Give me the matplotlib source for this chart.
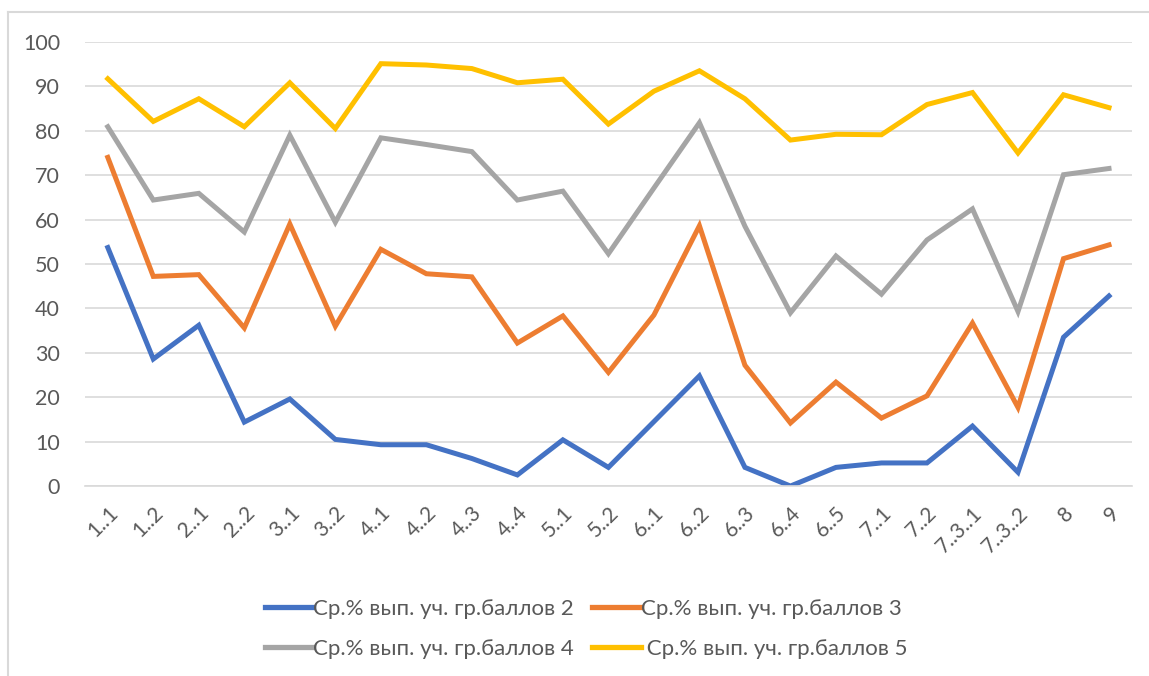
import matplotlib.pyplot as plt
from matplotlib.lines import Line2D

categories = ["1..1", "1..2", "2..1", "2..2", "3..1", "3..2", "4..1", "4..2", "4..3",
              "4..4", "5..1", "5..2", "6..1", "6..2", "6..3", "6..4", "6..5", "7..1",
              "7..2", "7..3..1", "7..3..2", "8", "9"]

grade2 = [53.7, 28.6, 36.2, 14.4, 19.6, 10.5, 9.3, 9.3, 6.2, 2.5, 10.4, 4.2,
          14.5, 24.8, 4.2, 0.0, 4.2, 5.2, 5.2, 13.5, 3.1, 33.5, 42.8]
grade3 = [74.0, 47.2, 47.6, 35.6, 59.0, 36.0, 53.3, 47.8, 47.1, 32.2, 38.3, 25.6,
          38.5, 58.6, 27.2, 14.2, 23.4, 15.3, 20.3, 36.7, 17.7, 51.2, 54.3]
grade4 = [80.9, 64.4, 65.9, 57.2, 79.0, 59.4, 78.4, 76.9, 75.3, 64.4, 66.4, 52.3,
          67.1, 81.8, 58.5, 39.0, 51.8, 43.2, 55.4, 62.4, 39.3, 70.1, 71.5]
grade5 = [91.7, 82.1, 87.2, 80.9, 90.8, 80.5, 95.1, 94.8, 94.0, 90.8, 91.6, 81.5,
          88.9, 93.5, 87.2, 77.9, 79.2, 79.1, 85.9, 88.6, 75.0, 88.1, 85.2]

series_names = ["Ср.% вып. уч. гр.баллов 2", "Ср.% вып. уч. гр.баллов 3",
                "Ср.% вып. уч. гр.баллов 4", " Ср.% вып. уч. гр.баллов 5"]
colors = ["#4472C4", "#ED7D31", "#A5A5A5", "#FFC000"]

plt.rcParams['font.family'] = ['Lato', 'DejaVu Sans']

fig = plt.figure(figsize=(11.49, 6.76), dpi=100)
ax = fig.add_axes([0.074, 0.281, 0.911, 0.657])

x = range(len(categories))
for vals, c in zip([grade2, grade3, grade4, grade5], colors):
    ax.plot(x, vals, color=c, linewidth=3.6, solid_joinstyle='miter')

ax.set_xlim(-0.5, len(categories) - 0.5)
ax.set_ylim(0, 100)
ax.set_yticks(range(0, 101, 10))
ax.set_xticks(list(x))
ax.set_xticklabels(categories, rotation=45, ha='right', rotation_mode='anchor')
ax.tick_params(axis='both', length=0, labelcolor='#595959')
ax.tick_params(axis='y', labelsize=15.5, pad=18)
ax.tick_params(axis='x', labelsize=15, pad=12)
ax.grid(axis='y', color='#d9d9d9', linewidth=1.2)
ax.set_axisbelow(True)
for s in ax.spines.values():
    s.set_visible(False)
ax.spines['bottom'].set_visible(True)
ax.spines['bottom'].set_color('#d9d9d9')
ax.spines['bottom'].set_linewidth(1.2)

# legend is filled row by row in the reference, matplotlib fills by column
order = [0, 2, 1, 3]
handles = [Line2D([0], [0], color=colors[i], linewidth=3.8) for i in order]
labels = [series_names[i] for i in order]
fig.legend(handles, labels, loc='center', bbox_to_anchor=(0.51, 0.07),
           ncol=2, frameon=False, fontsize=16, handlelength=2.2,
           handletextpad=0.0, columnspacing=0.8, labelspacing=0.9,
           labelcolor='#595959')

# chart frame (left and top edges visible)
fig.add_artist(Line2D([0.007, 0.007], [0, 0.982], color='#d9d9d9', linewidth=1.5,
                      transform=fig.transFigure))
fig.add_artist(Line2D([0.007, 1.0], [0.982, 0.982], color='#d9d9d9', linewidth=1.5,
                      transform=fig.transFigure))

fig.savefig("out.png", dpi=100)
